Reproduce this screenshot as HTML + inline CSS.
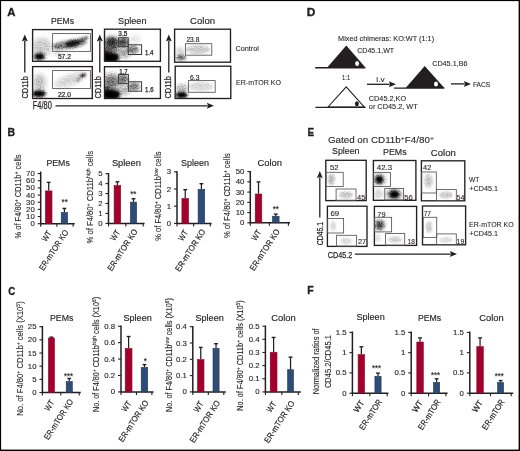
<!DOCTYPE html>
<html><head><meta charset="utf-8"><title>Figure</title>
<style>
html,body{margin:0;padding:0;background:#fff;width:520px;height:451px;overflow:hidden}
svg{display:block;will-change:transform;font-family:"Liberation Sans",sans-serif;fill:#231f20}
text{fill:#231f20}
</style></head><body>
<svg xmlns="http://www.w3.org/2000/svg" width="520" height="451" viewBox="0 0 520 451"><defs><filter id="b16" x="-100%" y="-100%" width="300%" height="300%"><feGaussianBlur stdDeviation="1.6"/></filter><filter id="b13" x="-100%" y="-100%" width="300%" height="300%"><feGaussianBlur stdDeviation="1.3"/></filter><filter id="b11" x="-100%" y="-100%" width="300%" height="300%"><feGaussianBlur stdDeviation="1.1"/></filter><filter id="b15" x="-100%" y="-100%" width="300%" height="300%"><feGaussianBlur stdDeviation="1.5"/></filter><filter id="b26" x="-100%" y="-100%" width="300%" height="300%"><feGaussianBlur stdDeviation="2.6"/></filter><filter id="b24" x="-100%" y="-100%" width="300%" height="300%"><feGaussianBlur stdDeviation="2.4"/></filter><filter id="b20" x="-100%" y="-100%" width="300%" height="300%"><feGaussianBlur stdDeviation="2.0"/></filter><filter id="b9" x="-100%" y="-100%" width="300%" height="300%"><feGaussianBlur stdDeviation="0.9"/></filter><filter id="b10" x="-100%" y="-100%" width="300%" height="300%"><feGaussianBlur stdDeviation="1.0"/></filter><filter id="b14" x="-100%" y="-100%" width="300%" height="300%"><feGaussianBlur stdDeviation="1.4"/></filter><filter id="b18" x="-100%" y="-100%" width="300%" height="300%"><feGaussianBlur stdDeviation="1.8"/></filter><filter id="b12" x="-100%" y="-100%" width="300%" height="300%"><feGaussianBlur stdDeviation="1.2"/></filter><filter id="spk" filterUnits="userSpaceOnUse" x="0" y="0" width="520" height="451" color-interpolation-filters="sRGB"><feTurbulence type="fractalNoise" baseFrequency="0.8" numOctaves="2" seed="11" result="n"/><feColorMatrix in="n" type="matrix" values="0 0 0 0 0  0 0 0 0 0  0 0 0 0 0  1.3 0 0 0 -0.15000000000000002" result="na"/><feComposite in="SourceAlpha" in2="SourceAlpha" operator="arithmetic" k1="-1" k2="1" k3="0" k4="0" result="b"/><feComposite in="b" in2="na" operator="arithmetic" k1="2" k2="0" k3="0" k4="0" result="t"/><feComposite in="SourceAlpha" in2="SourceAlpha" operator="arithmetic" k1="1" k2="0" k3="0" k4="0" result="a2"/><feComposite in="a2" in2="t" operator="arithmetic" k1="0" k2="1" k3="1" k4="0"/></filter><clipPath id="c0"><rect x="32.6" y="29.6" width="59.70" height="31.70"/></clipPath><clipPath id="c1"><rect x="32.6" y="66.6" width="59.70" height="31.90"/></clipPath><clipPath id="c2"><rect x="104.5" y="29.2" width="55.90" height="32.10"/></clipPath><clipPath id="c3"><rect x="104.5" y="66.7" width="55.90" height="31.80"/></clipPath><clipPath id="c4"><rect x="174.6" y="29.2" width="55.90" height="33.00"/></clipPath><clipPath id="c5"><rect x="175.2" y="66.2" width="55.60" height="32.30"/></clipPath><clipPath id="c6"><rect x="325.8" y="160.3" width="40.40" height="40.30"/></clipPath><clipPath id="c7"><rect x="373.4" y="160.5" width="42.50" height="39.80"/></clipPath><clipPath id="c8"><rect x="421.4" y="160.8" width="43.40" height="40.00"/></clipPath><clipPath id="c9"><rect x="327.4" y="206.2" width="39.60" height="40.20"/></clipPath><clipPath id="c10"><rect x="374.4" y="206.4" width="42.20" height="39.00"/></clipPath><clipPath id="c11"><rect x="422.5" y="206.0" width="43.10" height="38.80"/></clipPath></defs><rect x="0" y="0" width="520" height="451" fill="#fff"/>
<g filter="url(#spk)"><g clip-path="url(#c0)"><ellipse cx="70.00" cy="44.30" rx="17.00" ry="4.20" fill="#000" fill-opacity="0.5" filter="url(#b16)" transform="rotate(-9 70.00 44.30)"/><ellipse cx="72.50" cy="43.60" rx="7.50" ry="3.00" fill="#000" fill-opacity="0.85" filter="url(#b13)" transform="rotate(-12 72.50 43.60)"/><ellipse cx="82.50" cy="39.50" rx="6.50" ry="2.30" fill="#000" fill-opacity="0.5" filter="url(#b11)" transform="rotate(-24 82.50 39.50)"/><ellipse cx="57.00" cy="46.50" rx="5.00" ry="3.00" fill="#000" fill-opacity="0.22" filter="url(#b15)"/><ellipse cx="42.00" cy="47.00" rx="10.00" ry="9.00" fill="#000" fill-opacity="0.2" filter="url(#b26)"/><ellipse cx="39.50" cy="56.50" rx="5.50" ry="3.60" fill="#000" fill-opacity="1.0" filter="url(#b15)"/><ellipse cx="58.00" cy="53.00" rx="5.00" ry="2.50" fill="#000" fill-opacity="0.12" filter="url(#b15)"/></g><g clip-path="url(#c1)"><ellipse cx="39.50" cy="83.00" rx="6.00" ry="9.00" fill="#000" fill-opacity="0.25" filter="url(#b24)"/><ellipse cx="39.00" cy="93.80" rx="7.00" ry="3.60" fill="#000" fill-opacity="1.0" filter="url(#b15)"/><ellipse cx="70.00" cy="80.00" rx="16.00" ry="5.50" fill="#000" fill-opacity="0.16" filter="url(#b20)" transform="rotate(-20 70.00 80.00)"/><ellipse cx="83.00" cy="75.30" rx="3.20" ry="1.60" fill="#000" fill-opacity="0.9" filter="url(#b9)" transform="rotate(-20 83.00 75.30)"/><ellipse cx="78.50" cy="79.50" rx="3.00" ry="1.50" fill="#000" fill-opacity="0.3" filter="url(#b10)" transform="rotate(-45 78.50 79.50)"/></g><g clip-path="url(#c2)"><ellipse cx="110.50" cy="57.50" rx="9.00" ry="5.50" fill="#000" fill-opacity="1.0" filter="url(#b16)"/><ellipse cx="106.50" cy="53.00" rx="3.00" ry="4.00" fill="#000" fill-opacity="0.8" filter="url(#b14)"/><ellipse cx="111.50" cy="45.00" rx="8.00" ry="8.00" fill="#000" fill-opacity="0.7" filter="url(#b24)"/><ellipse cx="112.00" cy="41.00" rx="6.00" ry="3.50" fill="#000" fill-opacity="0.5" filter="url(#b15)"/><ellipse cx="123.40" cy="42.20" rx="5.00" ry="4.50" fill="#000" fill-opacity="0.7" filter="url(#b15)"/><ellipse cx="133.00" cy="49.50" rx="6.00" ry="4.00" fill="#000" fill-opacity="0.5" filter="url(#b16)"/><ellipse cx="124.00" cy="53.00" rx="6.00" ry="5.00" fill="#000" fill-opacity="0.35" filter="url(#b20)"/><ellipse cx="135.00" cy="39.00" rx="6.00" ry="4.00" fill="#000" fill-opacity="0.1" filter="url(#b20)"/></g><g clip-path="url(#c3)"><ellipse cx="111.00" cy="94.50" rx="9.50" ry="5.50" fill="#000" fill-opacity="1.0" filter="url(#b16)"/><ellipse cx="106.50" cy="90.00" rx="3.00" ry="4.00" fill="#000" fill-opacity="0.7" filter="url(#b14)"/><ellipse cx="111.50" cy="82.00" rx="8.00" ry="8.00" fill="#000" fill-opacity="0.55" filter="url(#b24)"/><ellipse cx="123.40" cy="79.00" rx="5.00" ry="4.50" fill="#000" fill-opacity="0.55" filter="url(#b15)"/><ellipse cx="134.00" cy="86.50" rx="6.00" ry="4.00" fill="#000" fill-opacity="0.5" filter="url(#b16)"/><ellipse cx="124.00" cy="90.00" rx="6.00" ry="5.00" fill="#000" fill-opacity="0.3" filter="url(#b20)"/></g><g clip-path="url(#c4)"><ellipse cx="198.00" cy="49.50" rx="12.00" ry="4.50" fill="#000" fill-opacity="0.2" filter="url(#b16)"/><ellipse cx="181.00" cy="57.50" rx="5.00" ry="3.00" fill="#000" fill-opacity="0.6" filter="url(#b14)"/><ellipse cx="180.00" cy="51.00" rx="4.00" ry="4.00" fill="#000" fill-opacity="0.15" filter="url(#b18)"/></g><g clip-path="url(#c5)"><ellipse cx="201.00" cy="86.50" rx="12.00" ry="4.50" fill="#000" fill-opacity="0.15" filter="url(#b16)"/><ellipse cx="181.50" cy="95.00" rx="6.00" ry="3.60" fill="#000" fill-opacity="1.0" filter="url(#b14)"/><ellipse cx="182.00" cy="88.00" rx="6.00" ry="4.00" fill="#000" fill-opacity="0.25" filter="url(#b18)"/></g><g clip-path="url(#c6)"><ellipse cx="331.50" cy="179.50" rx="3.50" ry="6.00" fill="#000" fill-opacity="0.24" filter="url(#b12)"/><ellipse cx="346.00" cy="195.00" rx="7.00" ry="3.50" fill="#000" fill-opacity="0.22" filter="url(#b12)"/></g><g clip-path="url(#c7)"><ellipse cx="379.30" cy="179.60" rx="4.00" ry="4.00" fill="#000" fill-opacity="1.0" filter="url(#b14)"/><ellipse cx="394.30" cy="194.30" rx="5.20" ry="4.00" fill="#000" fill-opacity="1.0" filter="url(#b15)"/><ellipse cx="379.50" cy="179.60" rx="6.50" ry="6.00" fill="#000" fill-opacity="0.25" filter="url(#b20)"/><ellipse cx="394.00" cy="194.50" rx="9.00" ry="5.50" fill="#000" fill-opacity="0.28" filter="url(#b20)"/><ellipse cx="378.50" cy="194.00" rx="4.00" ry="5.00" fill="#000" fill-opacity="0.15" filter="url(#b14)"/></g><g clip-path="url(#c8)"><ellipse cx="428.50" cy="181.00" rx="4.00" ry="7.00" fill="#000" fill-opacity="0.22" filter="url(#b14)"/><ellipse cx="446.00" cy="195.00" rx="7.00" ry="3.50" fill="#000" fill-opacity="0.2" filter="url(#b12)"/></g><g clip-path="url(#c9)"><ellipse cx="333.00" cy="226.00" rx="3.00" ry="5.00" fill="#000" fill-opacity="0.13" filter="url(#b12)"/><ellipse cx="346.00" cy="241.00" rx="6.00" ry="3.00" fill="#000" fill-opacity="0.15" filter="url(#b12)"/></g><g clip-path="url(#c10)"><ellipse cx="379.60" cy="225.00" rx="5.50" ry="5.50" fill="#000" fill-opacity="0.55" filter="url(#b18)"/><ellipse cx="379.60" cy="225.00" rx="2.00" ry="2.00" fill="#000" fill-opacity="0.6" filter="url(#b10)"/><ellipse cx="395.00" cy="239.50" rx="7.00" ry="3.00" fill="#000" fill-opacity="0.18" filter="url(#b12)"/><ellipse cx="378.00" cy="238.00" rx="3.00" ry="4.00" fill="#000" fill-opacity="0.1" filter="url(#b12)"/></g><g clip-path="url(#c11)"><ellipse cx="429.00" cy="227.00" rx="3.00" ry="6.00" fill="#000" fill-opacity="0.2" filter="url(#b12)"/><ellipse cx="446.00" cy="240.00" rx="7.00" ry="3.00" fill="#000" fill-opacity="0.13" filter="url(#b12)"/></g></g>
<text x="7.20" y="16.30" font-size="11" stroke="#231f20" stroke-width="0.35" font-weight="bold" textLength="8.20" lengthAdjust="spacingAndGlyphs">A</text>
<text x="306.80" y="16.30" font-size="11" stroke="#231f20" stroke-width="0.35" font-weight="bold" textLength="8.60" lengthAdjust="spacingAndGlyphs">D</text>
<text x="7.60" y="136.30" font-size="11" stroke="#231f20" stroke-width="0.35" font-weight="bold" textLength="7.60" lengthAdjust="spacingAndGlyphs">B</text>
<text x="307.60" y="136.30" font-size="11" stroke="#231f20" stroke-width="0.35" font-weight="bold" textLength="6.60" lengthAdjust="spacingAndGlyphs">E</text>
<text x="8.20" y="294.50" font-size="11" stroke="#231f20" stroke-width="0.35" font-weight="bold" textLength="7.00" lengthAdjust="spacingAndGlyphs">C</text>
<text x="307.20" y="293.90" font-size="11" stroke="#231f20" stroke-width="0.35" font-weight="bold" textLength="6.40" lengthAdjust="spacingAndGlyphs">F</text>
<text x="51.00" y="23.90" font-size="9.6" stroke="#231f20" stroke-width="0.15" textLength="23.00" lengthAdjust="spacingAndGlyphs">PEMs</text>
<text x="118.10" y="23.60" font-size="9.6" stroke="#231f20" stroke-width="0.15" textLength="28.40" lengthAdjust="spacingAndGlyphs">Spleen</text>
<text x="190.10" y="23.70" font-size="9.6" stroke="#231f20" stroke-width="0.15" textLength="24.90" lengthAdjust="spacingAndGlyphs">Colon</text>
<rect x="32.60" y="29.60" width="59.70" height="31.70" fill="none" stroke="#231f20" stroke-width="1.35"/>
<rect x="32.60" y="66.60" width="59.70" height="31.90" fill="none" stroke="#231f20" stroke-width="1.35"/>
<rect x="104.50" y="29.20" width="55.90" height="32.10" fill="none" stroke="#231f20" stroke-width="1.35"/>
<rect x="104.50" y="66.70" width="55.90" height="31.80" fill="none" stroke="#231f20" stroke-width="1.35"/>
<rect x="174.60" y="29.20" width="55.90" height="33.00" fill="none" stroke="#231f20" stroke-width="1.35"/>
<rect x="175.20" y="66.20" width="55.60" height="32.30" fill="none" stroke="#231f20" stroke-width="1.35"/>
<rect x="52.60" y="33.60" width="37.80" height="17.80" fill="none" stroke="#555" stroke-width="0.85"/>
<rect x="52.60" y="70.60" width="37.80" height="18.00" fill="none" stroke="#555" stroke-width="0.85"/>
<rect x="118.60" y="37.80" width="9.60" height="8.80" fill="none" stroke="#383838" stroke-width="1.0"/>
<rect x="128.20" y="44.80" width="13.40" height="9.70" fill="none" stroke="#383838" stroke-width="1.0"/>
<rect x="118.60" y="74.40" width="9.80" height="9.20" fill="none" stroke="#383838" stroke-width="1.0"/>
<rect x="128.40" y="81.80" width="13.20" height="9.40" fill="none" stroke="#383838" stroke-width="1.0"/>
<rect x="185.40" y="43.70" width="26.40" height="11.50" fill="none" stroke="#555" stroke-width="0.85"/>
<rect x="188.40" y="80.60" width="26.80" height="11.70" fill="none" stroke="#555" stroke-width="0.85"/>
<text x="57.90" y="59.00" font-size="6.6" stroke="#231f20" stroke-width="0.22" textLength="13.00" lengthAdjust="spacingAndGlyphs">57.2</text>
<text x="57.90" y="96.60" font-size="6.6" stroke="#231f20" stroke-width="0.22" textLength="13.00" lengthAdjust="spacingAndGlyphs">22.0</text>
<text x="118.30" y="36.40" font-size="6.6" stroke="#231f20" stroke-width="0.25" textLength="9.00" lengthAdjust="spacingAndGlyphs">3.5</text>
<text x="144.90" y="54.50" font-size="6.6" stroke="#231f20" stroke-width="0.25" textLength="8.40" lengthAdjust="spacingAndGlyphs">1.4</text>
<text x="119.30" y="73.90" font-size="6.6" stroke="#231f20" stroke-width="0.25" textLength="8.40" lengthAdjust="spacingAndGlyphs">1.7</text>
<text x="145.10" y="91.60" font-size="6.6" stroke="#231f20" stroke-width="0.25" textLength="8.40" lengthAdjust="spacingAndGlyphs">1.6</text>
<text x="186.40" y="42.30" font-size="6.6" stroke="#231f20" stroke-width="0.15" textLength="13.00" lengthAdjust="spacingAndGlyphs">23.8</text>
<text x="190.00" y="80.00" font-size="6.6" stroke="#231f20" stroke-width="0.15" textLength="9.40" lengthAdjust="spacingAndGlyphs">6.3</text>
<text x="235.50" y="51.00" font-size="7.6" stroke="#231f20" stroke-width="0.1" textLength="23.40" lengthAdjust="spacingAndGlyphs">Control</text>
<text x="236.00" y="85.00" font-size="7.6" stroke="#231f20" stroke-width="0.1" textLength="45.00" lengthAdjust="spacingAndGlyphs">ER-mTOR KO</text>
<line x1="24.80" y1="40.60" x2="24.80" y2="72.60" stroke="#231f20" stroke-width="1.3"/>
<path d="M21.80,41.60 L24.80,34.40 L27.80,41.60 L24.80,40.20 Z" fill="#231f20" stroke="none" stroke-width="1.0"/>
<text x="27.70" y="87.30" font-size="9.8" stroke="#231f20" stroke-width="0.25" text-anchor="middle" textLength="22.60" lengthAdjust="spacingAndGlyphs" transform="rotate(-90 27.70 87.30)">CD11b</text>
<line x1="99.80" y1="40.60" x2="99.80" y2="72.60" stroke="#231f20" stroke-width="1.3"/>
<path d="M96.80,41.60 L99.80,34.40 L102.80,41.60 L99.80,40.20 Z" fill="#231f20" stroke="none" stroke-width="1.0"/>
<text x="101.40" y="87.30" font-size="9.2" stroke="#231f20" stroke-width="0.25" text-anchor="middle" textLength="22.60" lengthAdjust="spacingAndGlyphs" transform="rotate(-90 101.40 87.30)">CD11b</text>
<line x1="168.80" y1="40.60" x2="168.80" y2="72.60" stroke="#231f20" stroke-width="1.3"/>
<path d="M165.80,41.60 L168.80,34.40 L171.80,41.60 L168.80,40.20 Z" fill="#231f20" stroke="none" stroke-width="1.0"/>
<text x="171.30" y="87.30" font-size="9.2" stroke="#231f20" stroke-width="0.25" text-anchor="middle" textLength="22.60" lengthAdjust="spacingAndGlyphs" transform="rotate(-90 171.30 87.30)">CD11b</text>
<text x="32.80" y="108.60" font-size="10.0" stroke="#231f20" stroke-width="0.25" textLength="19.00" lengthAdjust="spacingAndGlyphs">F4/80</text>
<line x1="55.50" y1="105.80" x2="207.80" y2="105.80" stroke="#231f20" stroke-width="1.3"/>
<path d="M206.80,102.80 L214.00,105.80 L206.80,108.80 L208.20,105.80 Z" fill="#231f20" stroke="none" stroke-width="1.0"/>
<text x="338.10" y="40.70" font-size="7.4" stroke="#231f20" stroke-width="0.1" textLength="96.00" lengthAdjust="spacingAndGlyphs">Mixed chimeras: KO:WT (1:1)</text>
<text x="357.20" y="52.70" font-size="7.4" stroke="#231f20" stroke-width="0.1" textLength="37.00" lengthAdjust="spacingAndGlyphs">CD45.1,WT</text>
<text x="432.20" y="66.40" font-size="7.4" stroke="#231f20" stroke-width="0.1" textLength="35.30" lengthAdjust="spacingAndGlyphs">CD45.1,B6</text>
<text x="342.00" y="80.20" font-size="7.4" stroke="#231f20" stroke-width="0.1" textLength="8.20" lengthAdjust="spacingAndGlyphs">1:1</text>
<text x="376.30" y="81.60" font-size="7.4" stroke="#231f20" stroke-width="0.1" textLength="8.30" lengthAdjust="spacingAndGlyphs">i.v</text>
<text x="472.90" y="86.50" font-size="8.0" stroke="#231f20" stroke-width="0.1" textLength="17.40" lengthAdjust="spacingAndGlyphs">FACS</text>
<text x="368.80" y="100.50" font-size="7.4" stroke="#231f20" stroke-width="0.1" textLength="37.40" lengthAdjust="spacingAndGlyphs">CD45.2,KO</text>
<text x="368.80" y="109.00" font-size="7.4" stroke="#231f20" stroke-width="0.1" textLength="49.00" lengthAdjust="spacingAndGlyphs">or CD45.2, WT</text>
<path d="M327.2,67.6 L346.3,45.6 L365.4,67.6 Z" fill="#231f20" stroke="none" stroke-width="1.0"/>
<line x1="315.20" y1="67.70" x2="365.40" y2="67.70" stroke="#231f20" stroke-width="1.35"/>
<ellipse cx="357.1" cy="63.6" rx="2.0" ry="2.5" fill="#fff"/>
<path d="M405.6,88.0 L424.7,66.0 L444.4,88.0 Z" fill="#231f20" stroke="none" stroke-width="1.0"/>
<line x1="394.00" y1="88.10" x2="444.40" y2="88.10" stroke="#231f20" stroke-width="1.35"/>
<ellipse cx="436.0" cy="84.0" rx="2.0" ry="2.5" fill="#fff"/>
<path d="M328.0,107.0 L346.2,86.8 L364.2,107.0 Z" fill="none" stroke="#231f20" stroke-width="1.1"/>
<line x1="315.40" y1="107.30" x2="365.60" y2="107.30" stroke="#231f20" stroke-width="1.35"/>
<ellipse cx="356.9" cy="103.8" rx="2.0" ry="2.5" fill="#231f20"/>
<line x1="366.90" y1="84.30" x2="389.80" y2="84.30" stroke="#231f20" stroke-width="1.3"/>
<path d="M388.80,81.30 L396.00,84.30 L388.80,87.30 L390.20,84.30 Z" fill="#231f20" stroke="none" stroke-width="1.0"/>
<line x1="451.00" y1="83.90" x2="464.80" y2="83.90" stroke="#231f20" stroke-width="1.3"/>
<path d="M463.80,80.90 L471.00,83.90 L463.80,86.90 L465.20,83.90 Z" fill="#231f20" stroke="none" stroke-width="1.0"/>
<line x1="40.70" y1="171.60" x2="40.70" y2="224.30" stroke="#231f20" stroke-width="1.5"/>
<line x1="37.70" y1="223.70" x2="40.70" y2="223.70" stroke="#231f20" stroke-width="1.1"/>
<text x="34.80" y="226.25" font-size="7.8" stroke="#231f20" stroke-width="0.12" text-anchor="end">0</text>
<line x1="37.70" y1="216.54" x2="40.70" y2="216.54" stroke="#231f20" stroke-width="1.1"/>
<text x="34.80" y="219.09" font-size="7.8" stroke="#231f20" stroke-width="0.12" text-anchor="end">10</text>
<line x1="37.70" y1="209.38" x2="40.70" y2="209.38" stroke="#231f20" stroke-width="1.1"/>
<text x="34.80" y="211.93" font-size="7.8" stroke="#231f20" stroke-width="0.12" text-anchor="end">20</text>
<line x1="37.70" y1="202.22" x2="40.70" y2="202.22" stroke="#231f20" stroke-width="1.1"/>
<text x="34.80" y="204.77" font-size="7.8" stroke="#231f20" stroke-width="0.12" text-anchor="end">30</text>
<line x1="37.70" y1="195.06" x2="40.70" y2="195.06" stroke="#231f20" stroke-width="1.1"/>
<text x="34.80" y="197.61" font-size="7.8" stroke="#231f20" stroke-width="0.12" text-anchor="end">40</text>
<line x1="37.70" y1="187.90" x2="40.70" y2="187.90" stroke="#231f20" stroke-width="1.1"/>
<text x="34.80" y="190.45" font-size="7.8" stroke="#231f20" stroke-width="0.12" text-anchor="end">50</text>
<line x1="37.70" y1="180.74" x2="40.70" y2="180.74" stroke="#231f20" stroke-width="1.1"/>
<text x="34.80" y="183.29" font-size="7.8" stroke="#231f20" stroke-width="0.12" text-anchor="end">60</text>
<line x1="37.70" y1="173.58" x2="40.70" y2="173.58" stroke="#231f20" stroke-width="1.1"/>
<text x="34.80" y="176.13" font-size="7.8" stroke="#231f20" stroke-width="0.12" text-anchor="end">70</text>
<line x1="40.20" y1="223.70" x2="74.80" y2="223.70" stroke="#231f20" stroke-width="1.5"/>
<line x1="40.70" y1="223.70" x2="40.70" y2="226.70" stroke="#231f20" stroke-width="1.1"/>
<line x1="56.90" y1="223.70" x2="56.90" y2="226.70" stroke="#231f20" stroke-width="1.1"/>
<line x1="73.10" y1="223.70" x2="73.10" y2="226.70" stroke="#231f20" stroke-width="1.1"/>
<rect x="45.40" y="190.92" width="6.60" height="32.78" fill="#a3002b" stroke="#860a2c" stroke-width="0.6"/>
<line x1="48.70" y1="190.62" x2="48.70" y2="182.67" stroke="#231f20" stroke-width="1.25"/>
<line x1="46.80" y1="182.37" x2="50.60" y2="182.37" stroke="#231f20" stroke-width="1.4"/>
<rect x="61.20" y="212.47" width="6.40" height="11.23" fill="#2e4c78" stroke="#213555" stroke-width="0.6"/>
<line x1="64.40" y1="212.17" x2="64.40" y2="208.73" stroke="#231f20" stroke-width="1.25"/>
<line x1="62.50" y1="208.43" x2="66.30" y2="208.43" stroke="#231f20" stroke-width="1.4"/>
<text x="46.40" y="165.50" font-size="9.6" stroke="#231f20" stroke-width="0.15" textLength="23.40" lengthAdjust="spacingAndGlyphs">PEMs</text>
<text x="64.70" y="205.40" font-size="9.0" stroke="#231f20" stroke-width="0.15" text-anchor="middle" textLength="6.20" lengthAdjust="spacingAndGlyphs">**</text>
<text x="51.90" y="233.10" font-size="8.4" stroke="#231f20" stroke-width="0.18" text-anchor="end" textLength="11.00" lengthAdjust="spacingAndGlyphs" transform="rotate(-57 51.90 233.10)">WT</text>
<text x="68.80" y="232.20" font-size="8.4" stroke="#231f20" stroke-width="0.18" text-anchor="end" textLength="46.50" lengthAdjust="spacingAndGlyphs" transform="rotate(-57 68.80 232.20)">ER-mTOR KO</text>
<line x1="108.50" y1="173.00" x2="108.50" y2="224.00" stroke="#231f20" stroke-width="1.5"/>
<line x1="105.50" y1="223.40" x2="108.50" y2="223.40" stroke="#231f20" stroke-width="1.1"/>
<text x="102.60" y="225.95" font-size="7.8" stroke="#231f20" stroke-width="0.12" text-anchor="end">0</text>
<line x1="105.50" y1="213.45" x2="108.50" y2="213.45" stroke="#231f20" stroke-width="1.1"/>
<text x="102.60" y="216.00" font-size="7.8" stroke="#231f20" stroke-width="0.12" text-anchor="end">1</text>
<line x1="105.50" y1="203.50" x2="108.50" y2="203.50" stroke="#231f20" stroke-width="1.1"/>
<text x="102.60" y="206.05" font-size="7.8" stroke="#231f20" stroke-width="0.12" text-anchor="end">2</text>
<line x1="105.50" y1="193.55" x2="108.50" y2="193.55" stroke="#231f20" stroke-width="1.1"/>
<text x="102.60" y="196.10" font-size="7.8" stroke="#231f20" stroke-width="0.12" text-anchor="end">3</text>
<line x1="105.50" y1="183.60" x2="108.50" y2="183.60" stroke="#231f20" stroke-width="1.1"/>
<text x="102.60" y="186.15" font-size="7.8" stroke="#231f20" stroke-width="0.12" text-anchor="end">4</text>
<line x1="105.50" y1="173.65" x2="108.50" y2="173.65" stroke="#231f20" stroke-width="1.1"/>
<text x="102.60" y="176.20" font-size="7.8" stroke="#231f20" stroke-width="0.12" text-anchor="end">5</text>
<line x1="108.00" y1="223.40" x2="144.60" y2="223.40" stroke="#231f20" stroke-width="1.5"/>
<line x1="108.50" y1="223.40" x2="108.50" y2="226.40" stroke="#231f20" stroke-width="1.1"/>
<line x1="125.85" y1="223.40" x2="125.85" y2="226.40" stroke="#231f20" stroke-width="1.1"/>
<line x1="143.20" y1="223.40" x2="143.20" y2="226.40" stroke="#231f20" stroke-width="1.1"/>
<rect x="114.10" y="185.49" width="6.60" height="37.91" fill="#a3002b" stroke="#860a2c" stroke-width="0.6"/>
<line x1="117.40" y1="185.19" x2="117.40" y2="182.11" stroke="#231f20" stroke-width="1.25"/>
<line x1="115.50" y1="181.81" x2="119.30" y2="181.81" stroke="#231f20" stroke-width="1.4"/>
<rect x="130.40" y="202.11" width="6.20" height="21.29" fill="#2e4c78" stroke="#213555" stroke-width="0.6"/>
<line x1="133.50" y1="201.81" x2="133.50" y2="199.03" stroke="#231f20" stroke-width="1.25"/>
<line x1="131.60" y1="198.72" x2="135.40" y2="198.72" stroke="#231f20" stroke-width="1.4"/>
<text x="111.90" y="165.80" font-size="9.6" stroke="#231f20" stroke-width="0.15" textLength="29.00" lengthAdjust="spacingAndGlyphs">Spleen</text>
<text x="133.30" y="197.30" font-size="9.0" stroke="#231f20" stroke-width="0.15" text-anchor="middle" textLength="6.20" lengthAdjust="spacingAndGlyphs">**</text>
<text x="120.60" y="232.30" font-size="8.4" stroke="#231f20" stroke-width="0.18" text-anchor="end" textLength="11.00" lengthAdjust="spacingAndGlyphs" transform="rotate(-57 120.60 232.30)">WT</text>
<text x="137.90" y="231.40" font-size="8.4" stroke="#231f20" stroke-width="0.18" text-anchor="end" textLength="48.00" lengthAdjust="spacingAndGlyphs" transform="rotate(-57 137.90 231.40)">ER-mTOR KO</text>
<line x1="177.00" y1="171.20" x2="177.00" y2="224.00" stroke="#231f20" stroke-width="1.5"/>
<line x1="174.00" y1="223.40" x2="177.00" y2="223.40" stroke="#231f20" stroke-width="1.1"/>
<text x="171.10" y="225.95" font-size="7.8" stroke="#231f20" stroke-width="0.12" text-anchor="end">0</text>
<line x1="174.00" y1="206.20" x2="177.00" y2="206.20" stroke="#231f20" stroke-width="1.1"/>
<text x="171.10" y="208.75" font-size="7.8" stroke="#231f20" stroke-width="0.12" text-anchor="end">1</text>
<line x1="174.00" y1="189.00" x2="177.00" y2="189.00" stroke="#231f20" stroke-width="1.1"/>
<text x="171.10" y="191.55" font-size="7.8" stroke="#231f20" stroke-width="0.12" text-anchor="end">2</text>
<line x1="174.00" y1="171.80" x2="177.00" y2="171.80" stroke="#231f20" stroke-width="1.1"/>
<text x="171.10" y="174.35" font-size="7.8" stroke="#231f20" stroke-width="0.12" text-anchor="end">3</text>
<line x1="176.50" y1="223.40" x2="211.60" y2="223.40" stroke="#231f20" stroke-width="1.5"/>
<line x1="177.00" y1="223.40" x2="177.00" y2="226.40" stroke="#231f20" stroke-width="1.1"/>
<line x1="193.65" y1="223.40" x2="193.65" y2="226.40" stroke="#231f20" stroke-width="1.1"/>
<line x1="210.30" y1="223.40" x2="210.30" y2="226.40" stroke="#231f20" stroke-width="1.1"/>
<rect x="181.90" y="198.42" width="6.70" height="24.98" fill="#a3002b" stroke="#860a2c" stroke-width="0.6"/>
<line x1="185.25" y1="198.12" x2="185.25" y2="190.02" stroke="#231f20" stroke-width="1.25"/>
<line x1="183.35" y1="189.72" x2="187.15" y2="189.72" stroke="#231f20" stroke-width="1.4"/>
<rect x="198.10" y="189.30" width="6.60" height="34.10" fill="#2e4c78" stroke="#213555" stroke-width="0.6"/>
<line x1="201.40" y1="189.00" x2="201.40" y2="184.00" stroke="#231f20" stroke-width="1.25"/>
<line x1="199.50" y1="183.70" x2="203.30" y2="183.70" stroke="#231f20" stroke-width="1.4"/>
<text x="181.00" y="165.80" font-size="9.6" stroke="#231f20" stroke-width="0.15" textLength="28.00" lengthAdjust="spacingAndGlyphs">Spleen</text>
<text x="188.45" y="232.40" font-size="8.4" stroke="#231f20" stroke-width="0.18" text-anchor="end" textLength="11.00" lengthAdjust="spacingAndGlyphs" transform="rotate(-57 188.45 232.40)">WT</text>
<text x="205.80" y="231.50" font-size="8.4" stroke="#231f20" stroke-width="0.18" text-anchor="end" textLength="48.50" lengthAdjust="spacingAndGlyphs" transform="rotate(-57 205.80 231.50)">ER-mTOR KO</text>
<line x1="250.30" y1="171.00" x2="250.30" y2="223.40" stroke="#231f20" stroke-width="1.5"/>
<line x1="247.30" y1="222.80" x2="250.30" y2="222.80" stroke="#231f20" stroke-width="1.1"/>
<text x="244.40" y="225.35" font-size="7.8" stroke="#231f20" stroke-width="0.12" text-anchor="end">0</text>
<line x1="247.30" y1="212.56" x2="250.30" y2="212.56" stroke="#231f20" stroke-width="1.1"/>
<text x="244.40" y="215.11" font-size="7.8" stroke="#231f20" stroke-width="0.12" text-anchor="end">10</text>
<line x1="247.30" y1="202.32" x2="250.30" y2="202.32" stroke="#231f20" stroke-width="1.1"/>
<text x="244.40" y="204.87" font-size="7.8" stroke="#231f20" stroke-width="0.12" text-anchor="end">20</text>
<line x1="247.30" y1="192.08" x2="250.30" y2="192.08" stroke="#231f20" stroke-width="1.1"/>
<text x="244.40" y="194.63" font-size="7.8" stroke="#231f20" stroke-width="0.12" text-anchor="end">30</text>
<line x1="247.30" y1="181.84" x2="250.30" y2="181.84" stroke="#231f20" stroke-width="1.1"/>
<text x="244.40" y="184.39" font-size="7.8" stroke="#231f20" stroke-width="0.12" text-anchor="end">40</text>
<line x1="247.30" y1="171.60" x2="250.30" y2="171.60" stroke="#231f20" stroke-width="1.1"/>
<text x="244.40" y="174.15" font-size="7.8" stroke="#231f20" stroke-width="0.12" text-anchor="end">50</text>
<line x1="249.80" y1="222.80" x2="290.00" y2="222.80" stroke="#231f20" stroke-width="1.5"/>
<line x1="250.30" y1="222.80" x2="250.30" y2="225.80" stroke="#231f20" stroke-width="1.1"/>
<line x1="269.35" y1="222.80" x2="269.35" y2="225.80" stroke="#231f20" stroke-width="1.1"/>
<line x1="288.40" y1="222.80" x2="288.40" y2="225.80" stroke="#231f20" stroke-width="1.1"/>
<rect x="255.20" y="194.02" width="6.60" height="28.78" fill="#a3002b" stroke="#860a2c" stroke-width="0.6"/>
<line x1="258.50" y1="193.72" x2="258.50" y2="182.24" stroke="#231f20" stroke-width="1.25"/>
<line x1="256.60" y1="181.94" x2="260.40" y2="181.94" stroke="#231f20" stroke-width="1.4"/>
<rect x="272.50" y="216.24" width="6.60" height="6.56" fill="#2e4c78" stroke="#213555" stroke-width="0.6"/>
<line x1="275.80" y1="215.94" x2="275.80" y2="214.39" stroke="#231f20" stroke-width="1.25"/>
<line x1="273.90" y1="214.09" x2="277.70" y2="214.09" stroke="#231f20" stroke-width="1.4"/>
<text x="257.40" y="166.10" font-size="9.6" stroke="#231f20" stroke-width="0.15" textLength="24.60" lengthAdjust="spacingAndGlyphs">Colon</text>
<text x="275.80" y="212.10" font-size="9.0" stroke="#231f20" stroke-width="0.15" text-anchor="middle" textLength="6.20" lengthAdjust="spacingAndGlyphs">**</text>
<text x="261.70" y="232.20" font-size="8.4" stroke="#231f20" stroke-width="0.18" text-anchor="end" textLength="11.00" lengthAdjust="spacingAndGlyphs" transform="rotate(-57 261.70 232.20)">WT</text>
<text x="280.20" y="231.30" font-size="8.4" stroke="#231f20" stroke-width="0.18" text-anchor="end" textLength="48.00" lengthAdjust="spacingAndGlyphs" transform="rotate(-57 280.20 231.30)">ER-mTOR KO</text>
<line x1="42.40" y1="326.00" x2="42.40" y2="393.10" stroke="#231f20" stroke-width="1.5"/>
<line x1="39.40" y1="392.50" x2="42.40" y2="392.50" stroke="#231f20" stroke-width="1.1"/>
<text x="36.50" y="395.05" font-size="7.8" stroke="#231f20" stroke-width="0.12" text-anchor="end">0</text>
<line x1="39.40" y1="379.34" x2="42.40" y2="379.34" stroke="#231f20" stroke-width="1.1"/>
<text x="36.50" y="381.89" font-size="7.8" stroke="#231f20" stroke-width="0.12" text-anchor="end">5</text>
<line x1="39.40" y1="366.18" x2="42.40" y2="366.18" stroke="#231f20" stroke-width="1.1"/>
<text x="36.50" y="368.73" font-size="7.8" stroke="#231f20" stroke-width="0.12" text-anchor="end">10</text>
<line x1="39.40" y1="353.02" x2="42.40" y2="353.02" stroke="#231f20" stroke-width="1.1"/>
<text x="36.50" y="355.57" font-size="7.8" stroke="#231f20" stroke-width="0.12" text-anchor="end">15</text>
<line x1="39.40" y1="339.86" x2="42.40" y2="339.86" stroke="#231f20" stroke-width="1.1"/>
<text x="36.50" y="342.41" font-size="7.8" stroke="#231f20" stroke-width="0.12" text-anchor="end">20</text>
<line x1="39.40" y1="326.70" x2="42.40" y2="326.70" stroke="#231f20" stroke-width="1.1"/>
<text x="36.50" y="329.25" font-size="7.8" stroke="#231f20" stroke-width="0.12" text-anchor="end">25</text>
<line x1="41.90" y1="392.50" x2="80.80" y2="392.50" stroke="#231f20" stroke-width="1.5"/>
<line x1="42.40" y1="392.50" x2="42.40" y2="395.50" stroke="#231f20" stroke-width="1.1"/>
<line x1="60.80" y1="392.50" x2="60.80" y2="395.50" stroke="#231f20" stroke-width="1.1"/>
<line x1="79.20" y1="392.50" x2="79.20" y2="395.50" stroke="#231f20" stroke-width="1.1"/>
<rect x="48.40" y="338.05" width="6.10" height="54.45" fill="#a3002b" stroke="#860a2c" stroke-width="0.6"/>
<line x1="51.45" y1="337.75" x2="51.45" y2="337.46" stroke="#231f20" stroke-width="1.25"/>
<line x1="49.55" y1="337.16" x2="53.35" y2="337.16" stroke="#231f20" stroke-width="1.4"/>
<rect x="66.20" y="381.59" width="6.10" height="10.91" fill="#2e4c78" stroke="#213555" stroke-width="0.6"/>
<line x1="69.25" y1="381.29" x2="69.25" y2="378.79" stroke="#231f20" stroke-width="1.25"/>
<line x1="67.35" y1="378.49" x2="71.15" y2="378.49" stroke="#231f20" stroke-width="1.4"/>
<text x="50.00" y="320.70" font-size="9.6" stroke="#231f20" stroke-width="0.15" textLength="23.40" lengthAdjust="spacingAndGlyphs">PEMs</text>
<text x="68.50" y="378.70" font-size="9.0" stroke="#231f20" stroke-width="0.15" text-anchor="middle" textLength="9.00" lengthAdjust="spacingAndGlyphs">***</text>
<text x="54.65" y="402.40" font-size="8.4" stroke="#231f20" stroke-width="0.18" text-anchor="end" textLength="11.00" lengthAdjust="spacingAndGlyphs" transform="rotate(-57 54.65 402.40)">WT</text>
<text x="73.65" y="401.50" font-size="8.4" stroke="#231f20" stroke-width="0.18" text-anchor="end" textLength="46.50" lengthAdjust="spacingAndGlyphs" transform="rotate(-57 73.65 401.50)">ER-mTOR KO</text>
<line x1="121.00" y1="325.50" x2="121.00" y2="392.50" stroke="#231f20" stroke-width="1.5"/>
<line x1="118.00" y1="391.90" x2="121.00" y2="391.90" stroke="#231f20" stroke-width="1.1"/>
<text x="115.10" y="394.45" font-size="7.8" stroke="#231f20" stroke-width="0.12" text-anchor="end">0</text>
<line x1="118.00" y1="375.48" x2="121.00" y2="375.48" stroke="#231f20" stroke-width="1.1"/>
<text x="115.10" y="378.03" font-size="7.8" stroke="#231f20" stroke-width="0.12" text-anchor="end">0.2</text>
<line x1="118.00" y1="359.06" x2="121.00" y2="359.06" stroke="#231f20" stroke-width="1.1"/>
<text x="115.10" y="361.61" font-size="7.8" stroke="#231f20" stroke-width="0.12" text-anchor="end">0.4</text>
<line x1="118.00" y1="342.64" x2="121.00" y2="342.64" stroke="#231f20" stroke-width="1.1"/>
<text x="115.10" y="345.19" font-size="7.8" stroke="#231f20" stroke-width="0.12" text-anchor="end">0.6</text>
<line x1="118.00" y1="326.22" x2="121.00" y2="326.22" stroke="#231f20" stroke-width="1.1"/>
<text x="115.10" y="328.77" font-size="7.8" stroke="#231f20" stroke-width="0.12" text-anchor="end">0.8</text>
<line x1="120.50" y1="391.90" x2="153.60" y2="391.90" stroke="#231f20" stroke-width="1.5"/>
<line x1="121.00" y1="391.90" x2="121.00" y2="394.90" stroke="#231f20" stroke-width="1.1"/>
<line x1="136.45" y1="391.90" x2="136.45" y2="394.90" stroke="#231f20" stroke-width="1.1"/>
<line x1="151.90" y1="391.90" x2="151.90" y2="394.90" stroke="#231f20" stroke-width="1.1"/>
<rect x="125.20" y="348.44" width="6.80" height="43.46" fill="#a3002b" stroke="#860a2c" stroke-width="0.6"/>
<line x1="128.60" y1="348.14" x2="128.60" y2="336.82" stroke="#231f20" stroke-width="1.25"/>
<line x1="126.70" y1="336.52" x2="130.50" y2="336.52" stroke="#231f20" stroke-width="1.4"/>
<rect x="141.20" y="367.41" width="6.50" height="24.49" fill="#2e4c78" stroke="#213555" stroke-width="0.6"/>
<line x1="144.45" y1="367.11" x2="144.45" y2="364.90" stroke="#231f20" stroke-width="1.25"/>
<line x1="142.55" y1="364.60" x2="146.35" y2="364.60" stroke="#231f20" stroke-width="1.4"/>
<text x="123.40" y="320.60" font-size="9.6" stroke="#231f20" stroke-width="0.15" textLength="28.40" lengthAdjust="spacingAndGlyphs">Spleen</text>
<text x="145.30" y="363.90" font-size="9.0" stroke="#231f20" stroke-width="0.15" text-anchor="middle" textLength="3.20" lengthAdjust="spacingAndGlyphs">*</text>
<text x="131.80" y="403.40" font-size="8.4" stroke="#231f20" stroke-width="0.18" text-anchor="end" textLength="11.00" lengthAdjust="spacingAndGlyphs" transform="rotate(-57 131.80 403.40)">WT</text>
<text x="148.85" y="402.50" font-size="8.4" stroke="#231f20" stroke-width="0.18" text-anchor="end" textLength="48.00" lengthAdjust="spacingAndGlyphs" transform="rotate(-57 148.85 402.50)">ER-mTOR KO</text>
<line x1="192.80" y1="326.00" x2="192.80" y2="392.50" stroke="#231f20" stroke-width="1.5"/>
<line x1="189.80" y1="391.90" x2="192.80" y2="391.90" stroke="#231f20" stroke-width="1.1"/>
<text x="186.90" y="394.45" font-size="7.8" stroke="#231f20" stroke-width="0.12" text-anchor="end">0</text>
<line x1="189.80" y1="375.60" x2="192.80" y2="375.60" stroke="#231f20" stroke-width="1.1"/>
<text x="186.90" y="378.15" font-size="7.8" stroke="#231f20" stroke-width="0.12" text-anchor="end">0.1</text>
<line x1="189.80" y1="359.30" x2="192.80" y2="359.30" stroke="#231f20" stroke-width="1.1"/>
<text x="186.90" y="361.85" font-size="7.8" stroke="#231f20" stroke-width="0.12" text-anchor="end">0.2</text>
<line x1="189.80" y1="343.00" x2="192.80" y2="343.00" stroke="#231f20" stroke-width="1.1"/>
<text x="186.90" y="345.55" font-size="7.8" stroke="#231f20" stroke-width="0.12" text-anchor="end">0.3</text>
<line x1="189.80" y1="326.70" x2="192.80" y2="326.70" stroke="#231f20" stroke-width="1.1"/>
<text x="186.90" y="329.25" font-size="7.8" stroke="#231f20" stroke-width="0.12" text-anchor="end">0.4</text>
<line x1="192.30" y1="391.90" x2="225.80" y2="391.90" stroke="#231f20" stroke-width="1.5"/>
<line x1="192.80" y1="391.90" x2="192.80" y2="394.90" stroke="#231f20" stroke-width="1.1"/>
<line x1="208.30" y1="391.90" x2="208.30" y2="394.90" stroke="#231f20" stroke-width="1.1"/>
<line x1="223.80" y1="391.90" x2="223.80" y2="394.90" stroke="#231f20" stroke-width="1.1"/>
<rect x="197.50" y="359.60" width="6.50" height="32.30" fill="#a3002b" stroke="#860a2c" stroke-width="0.6"/>
<line x1="200.75" y1="359.30" x2="200.75" y2="347.74" stroke="#231f20" stroke-width="1.25"/>
<line x1="198.85" y1="347.44" x2="202.65" y2="347.44" stroke="#231f20" stroke-width="1.4"/>
<rect x="213.00" y="348.35" width="6.10" height="43.55" fill="#2e4c78" stroke="#213555" stroke-width="0.6"/>
<line x1="216.05" y1="348.05" x2="216.05" y2="343.99" stroke="#231f20" stroke-width="1.25"/>
<line x1="214.15" y1="343.69" x2="217.95" y2="343.69" stroke="#231f20" stroke-width="1.4"/>
<text x="195.40" y="320.60" font-size="9.6" stroke="#231f20" stroke-width="0.15" textLength="28.40" lengthAdjust="spacingAndGlyphs">Spleen</text>
<text x="203.95" y="403.70" font-size="8.4" stroke="#231f20" stroke-width="0.18" text-anchor="end" textLength="11.00" lengthAdjust="spacingAndGlyphs" transform="rotate(-57 203.95 403.70)">WT</text>
<text x="220.45" y="402.80" font-size="8.4" stroke="#231f20" stroke-width="0.18" text-anchor="end" textLength="48.50" lengthAdjust="spacingAndGlyphs" transform="rotate(-57 220.45 402.80)">ER-mTOR KO</text>
<line x1="265.40" y1="325.60" x2="265.40" y2="392.50" stroke="#231f20" stroke-width="1.5"/>
<line x1="262.40" y1="391.90" x2="265.40" y2="391.90" stroke="#231f20" stroke-width="1.1"/>
<text x="259.50" y="394.45" font-size="7.8" stroke="#231f20" stroke-width="0.12" text-anchor="end">0</text>
<line x1="262.40" y1="378.76" x2="265.40" y2="378.76" stroke="#231f20" stroke-width="1.1"/>
<text x="259.50" y="381.31" font-size="7.8" stroke="#231f20" stroke-width="0.12" text-anchor="end">0.1</text>
<line x1="262.40" y1="365.62" x2="265.40" y2="365.62" stroke="#231f20" stroke-width="1.1"/>
<text x="259.50" y="368.17" font-size="7.8" stroke="#231f20" stroke-width="0.12" text-anchor="end">0.2</text>
<line x1="262.40" y1="352.48" x2="265.40" y2="352.48" stroke="#231f20" stroke-width="1.1"/>
<text x="259.50" y="355.03" font-size="7.8" stroke="#231f20" stroke-width="0.12" text-anchor="end">0.3</text>
<line x1="262.40" y1="339.34" x2="265.40" y2="339.34" stroke="#231f20" stroke-width="1.1"/>
<text x="259.50" y="341.89" font-size="7.8" stroke="#231f20" stroke-width="0.12" text-anchor="end">0.4</text>
<line x1="262.40" y1="326.20" x2="265.40" y2="326.20" stroke="#231f20" stroke-width="1.1"/>
<text x="259.50" y="328.75" font-size="7.8" stroke="#231f20" stroke-width="0.12" text-anchor="end">0.5</text>
<line x1="264.90" y1="391.90" x2="300.80" y2="391.90" stroke="#231f20" stroke-width="1.5"/>
<line x1="265.40" y1="391.90" x2="265.40" y2="394.90" stroke="#231f20" stroke-width="1.1"/>
<line x1="281.85" y1="391.90" x2="281.85" y2="394.90" stroke="#231f20" stroke-width="1.1"/>
<line x1="298.30" y1="391.90" x2="298.30" y2="394.90" stroke="#231f20" stroke-width="1.1"/>
<rect x="270.20" y="352.25" width="6.80" height="39.65" fill="#a3002b" stroke="#860a2c" stroke-width="0.6"/>
<line x1="273.60" y1="351.95" x2="273.60" y2="337.74" stroke="#231f20" stroke-width="1.25"/>
<line x1="271.70" y1="337.44" x2="275.50" y2="337.44" stroke="#231f20" stroke-width="1.4"/>
<rect x="287.60" y="369.73" width="5.90" height="22.17" fill="#2e4c78" stroke="#213555" stroke-width="0.6"/>
<line x1="290.55" y1="369.43" x2="290.55" y2="357.45" stroke="#231f20" stroke-width="1.25"/>
<line x1="288.65" y1="357.15" x2="292.45" y2="357.15" stroke="#231f20" stroke-width="1.4"/>
<text x="271.20" y="320.60" font-size="9.6" stroke="#231f20" stroke-width="0.15" textLength="24.60" lengthAdjust="spacingAndGlyphs">Colon</text>
<text x="276.80" y="403.90" font-size="8.4" stroke="#231f20" stroke-width="0.18" text-anchor="end" textLength="11.00" lengthAdjust="spacingAndGlyphs" transform="rotate(-57 276.80 403.90)">WT</text>
<text x="294.95" y="403.00" font-size="8.4" stroke="#231f20" stroke-width="0.18" text-anchor="end" textLength="48.50" lengthAdjust="spacingAndGlyphs" transform="rotate(-57 294.95 403.00)">ER-mTOR KO</text>
<line x1="352.40" y1="331.50" x2="352.40" y2="393.80" stroke="#231f20" stroke-width="1.5"/>
<line x1="349.40" y1="393.20" x2="352.40" y2="393.20" stroke="#231f20" stroke-width="1.1"/>
<text x="346.50" y="395.75" font-size="7.8" stroke="#231f20" stroke-width="0.12" text-anchor="end">0</text>
<line x1="349.40" y1="372.94" x2="352.40" y2="372.94" stroke="#231f20" stroke-width="1.1"/>
<text x="346.50" y="375.49" font-size="7.8" stroke="#231f20" stroke-width="0.12" text-anchor="end">0.5</text>
<line x1="349.40" y1="352.67" x2="352.40" y2="352.67" stroke="#231f20" stroke-width="1.1"/>
<text x="346.50" y="355.22" font-size="7.8" stroke="#231f20" stroke-width="0.12" text-anchor="end">1</text>
<line x1="349.40" y1="332.40" x2="352.40" y2="332.40" stroke="#231f20" stroke-width="1.1"/>
<text x="346.50" y="334.95" font-size="7.8" stroke="#231f20" stroke-width="0.12" text-anchor="end">1.5</text>
<line x1="351.90" y1="393.20" x2="388.40" y2="393.20" stroke="#231f20" stroke-width="1.5"/>
<line x1="352.40" y1="393.20" x2="352.40" y2="396.20" stroke="#231f20" stroke-width="1.1"/>
<line x1="369.80" y1="393.20" x2="369.80" y2="396.20" stroke="#231f20" stroke-width="1.1"/>
<line x1="387.20" y1="393.20" x2="387.20" y2="396.20" stroke="#231f20" stroke-width="1.1"/>
<rect x="358.10" y="354.59" width="6.50" height="38.61" fill="#a3002b" stroke="#860a2c" stroke-width="0.6"/>
<line x1="361.35" y1="354.29" x2="361.35" y2="347.09" stroke="#231f20" stroke-width="1.25"/>
<line x1="359.45" y1="346.79" x2="363.25" y2="346.79" stroke="#231f20" stroke-width="1.4"/>
<rect x="374.90" y="376.27" width="6.20" height="16.93" fill="#2e4c78" stroke="#213555" stroke-width="0.6"/>
<line x1="378.00" y1="375.97" x2="378.00" y2="373.44" stroke="#231f20" stroke-width="1.25"/>
<line x1="376.10" y1="373.13" x2="379.90" y2="373.13" stroke="#231f20" stroke-width="1.4"/>
<text x="356.40" y="320.30" font-size="9.6" stroke="#231f20" stroke-width="0.15" textLength="28.30" lengthAdjust="spacingAndGlyphs">Spleen</text>
<text x="376.40" y="371.10" font-size="9.0" stroke="#231f20" stroke-width="0.15" text-anchor="middle" textLength="9.00" lengthAdjust="spacingAndGlyphs">***</text>
<text x="364.55" y="402.60" font-size="8.4" stroke="#231f20" stroke-width="0.18" text-anchor="end" textLength="12.30" lengthAdjust="spacingAndGlyphs" transform="rotate(-57 364.55 402.60)">WT</text>
<text x="382.40" y="401.70" font-size="8.4" stroke="#231f20" stroke-width="0.18" text-anchor="end" textLength="34.50" lengthAdjust="spacingAndGlyphs" transform="rotate(-57 382.40 401.70)">ER-mTOR</text>
<line x1="411.20" y1="331.50" x2="411.20" y2="393.80" stroke="#231f20" stroke-width="1.5"/>
<line x1="408.20" y1="393.20" x2="411.20" y2="393.20" stroke="#231f20" stroke-width="1.1"/>
<text x="405.30" y="395.75" font-size="7.8" stroke="#231f20" stroke-width="0.12" text-anchor="end">0</text>
<line x1="408.20" y1="372.94" x2="411.20" y2="372.94" stroke="#231f20" stroke-width="1.1"/>
<text x="405.30" y="375.49" font-size="7.8" stroke="#231f20" stroke-width="0.12" text-anchor="end">0.5</text>
<line x1="408.20" y1="352.67" x2="411.20" y2="352.67" stroke="#231f20" stroke-width="1.1"/>
<text x="405.30" y="355.22" font-size="7.8" stroke="#231f20" stroke-width="0.12" text-anchor="end">1</text>
<line x1="408.20" y1="332.40" x2="411.20" y2="332.40" stroke="#231f20" stroke-width="1.1"/>
<text x="405.30" y="334.95" font-size="7.8" stroke="#231f20" stroke-width="0.12" text-anchor="end">1.5</text>
<line x1="410.70" y1="393.20" x2="447.60" y2="393.20" stroke="#231f20" stroke-width="1.5"/>
<line x1="411.20" y1="393.20" x2="411.20" y2="396.20" stroke="#231f20" stroke-width="1.1"/>
<line x1="428.55" y1="393.20" x2="428.55" y2="396.20" stroke="#231f20" stroke-width="1.1"/>
<line x1="445.90" y1="393.20" x2="445.90" y2="396.20" stroke="#231f20" stroke-width="1.1"/>
<rect x="416.80" y="342.03" width="6.50" height="51.17" fill="#a3002b" stroke="#860a2c" stroke-width="0.6"/>
<line x1="420.05" y1="341.73" x2="420.05" y2="338.17" stroke="#231f20" stroke-width="1.25"/>
<line x1="418.15" y1="337.87" x2="421.95" y2="337.87" stroke="#231f20" stroke-width="1.4"/>
<rect x="433.50" y="382.56" width="6.20" height="10.64" fill="#2e4c78" stroke="#213555" stroke-width="0.6"/>
<line x1="436.60" y1="382.26" x2="436.60" y2="379.11" stroke="#231f20" stroke-width="1.25"/>
<line x1="434.70" y1="378.81" x2="438.50" y2="378.81" stroke="#231f20" stroke-width="1.4"/>
<text x="418.00" y="320.50" font-size="9.6" stroke="#231f20" stroke-width="0.15" textLength="23.20" lengthAdjust="spacingAndGlyphs">PEMs</text>
<text x="435.50" y="377.50" font-size="9.0" stroke="#231f20" stroke-width="0.15" text-anchor="middle" textLength="9.00" lengthAdjust="spacingAndGlyphs">***</text>
<text x="423.25" y="402.60" font-size="8.4" stroke="#231f20" stroke-width="0.18" text-anchor="end" textLength="12.30" lengthAdjust="spacingAndGlyphs" transform="rotate(-57 423.25 402.60)">WT</text>
<text x="441.00" y="401.70" font-size="8.4" stroke="#231f20" stroke-width="0.18" text-anchor="end" textLength="34.50" lengthAdjust="spacingAndGlyphs" transform="rotate(-57 441.00 401.70)">ER-mTOR</text>
<line x1="469.80" y1="331.50" x2="469.80" y2="393.80" stroke="#231f20" stroke-width="1.5"/>
<line x1="466.80" y1="393.20" x2="469.80" y2="393.20" stroke="#231f20" stroke-width="1.1"/>
<text x="463.90" y="395.75" font-size="7.8" stroke="#231f20" stroke-width="0.12" text-anchor="end">0</text>
<line x1="466.80" y1="372.94" x2="469.80" y2="372.94" stroke="#231f20" stroke-width="1.1"/>
<text x="463.90" y="375.49" font-size="7.8" stroke="#231f20" stroke-width="0.12" text-anchor="end">0.5</text>
<line x1="466.80" y1="352.67" x2="469.80" y2="352.67" stroke="#231f20" stroke-width="1.1"/>
<text x="463.90" y="355.22" font-size="7.8" stroke="#231f20" stroke-width="0.12" text-anchor="end">1</text>
<line x1="466.80" y1="332.40" x2="469.80" y2="332.40" stroke="#231f20" stroke-width="1.1"/>
<text x="463.90" y="334.95" font-size="7.8" stroke="#231f20" stroke-width="0.12" text-anchor="end">1.5</text>
<line x1="469.30" y1="393.20" x2="513.20" y2="393.20" stroke="#231f20" stroke-width="1.5"/>
<line x1="469.80" y1="393.20" x2="469.80" y2="396.20" stroke="#231f20" stroke-width="1.1"/>
<line x1="490.50" y1="393.20" x2="490.50" y2="396.20" stroke="#231f20" stroke-width="1.1"/>
<line x1="511.20" y1="393.20" x2="511.20" y2="396.20" stroke="#231f20" stroke-width="1.1"/>
<rect x="476.80" y="346.69" width="6.50" height="46.51" fill="#a3002b" stroke="#860a2c" stroke-width="0.6"/>
<line x1="480.05" y1="346.39" x2="480.05" y2="338.17" stroke="#231f20" stroke-width="1.25"/>
<line x1="478.15" y1="337.87" x2="481.95" y2="337.87" stroke="#231f20" stroke-width="1.4"/>
<rect x="497.60" y="382.56" width="6.00" height="10.64" fill="#2e4c78" stroke="#213555" stroke-width="0.6"/>
<line x1="500.60" y1="382.26" x2="500.60" y2="380.89" stroke="#231f20" stroke-width="1.25"/>
<line x1="498.70" y1="380.59" x2="502.50" y2="380.59" stroke="#231f20" stroke-width="1.4"/>
<text x="479.30" y="320.70" font-size="9.6" stroke="#231f20" stroke-width="0.15" textLength="24.40" lengthAdjust="spacingAndGlyphs">Colon</text>
<text x="499.20" y="379.30" font-size="9.0" stroke="#231f20" stroke-width="0.15" text-anchor="middle" textLength="9.00" lengthAdjust="spacingAndGlyphs">***</text>
<text x="483.25" y="402.60" font-size="8.4" stroke="#231f20" stroke-width="0.18" text-anchor="end" textLength="12.30" lengthAdjust="spacingAndGlyphs" transform="rotate(-57 483.25 402.60)">WT</text>
<text x="505.00" y="401.70" font-size="8.4" stroke="#231f20" stroke-width="0.18" text-anchor="end" textLength="34.50" lengthAdjust="spacingAndGlyphs" transform="rotate(-57 505.00 401.70)">ER-mTOR</text>
<text x="20.90" y="196.50" font-size="9.3" stroke="#231f20" stroke-width="0.1" text-anchor="middle" textLength="84.00" lengthAdjust="spacingAndGlyphs" transform="rotate(-90 20.90 196.50)">% of F4/80<tspan baseline-shift="super" font-size="6.2">+</tspan> CD11b<tspan baseline-shift="super" font-size="6.2">+</tspan> cells</text>
<text x="93.00" y="197.20" font-size="9.3" stroke="#231f20" stroke-width="0.1" text-anchor="middle" textLength="92.60" lengthAdjust="spacingAndGlyphs" transform="rotate(-90 93.00 197.20)">% of F4/80<tspan baseline-shift="super" font-size="6.2">+</tspan> CD11b<tspan baseline-shift="super" font-size="6.2">high</tspan> cells</text>
<text x="161.40" y="196.10" font-size="9.3" stroke="#231f20" stroke-width="0.1" text-anchor="middle" textLength="89.40" lengthAdjust="spacingAndGlyphs" transform="rotate(-90 161.40 196.10)">% of F4/80<tspan baseline-shift="super" font-size="6.2">+</tspan> CD11b<tspan baseline-shift="super" font-size="6.2">low</tspan> cells</text>
<text x="230.50" y="195.60" font-size="9.3" stroke="#231f20" stroke-width="0.1" text-anchor="middle" textLength="85.00" lengthAdjust="spacingAndGlyphs" transform="rotate(-90 230.50 195.60)">% of F4/80<tspan baseline-shift="super" font-size="6.2">+</tspan> CD11b<tspan baseline-shift="super" font-size="6.2">+</tspan> cells</text>
<text x="22.80" y="358.50" font-size="9.3" stroke="#231f20" stroke-width="0.1" text-anchor="middle" textLength="114.50" lengthAdjust="spacingAndGlyphs" transform="rotate(-90 22.80 358.50)">No. of F4/80<tspan baseline-shift="super" font-size="6.2">+</tspan> CD11b<tspan baseline-shift="super" font-size="6.2">+</tspan> cells (X10<tspan baseline-shift="super" font-size="6.2">5</tspan>)</text>
<text x="98.50" y="354.50" font-size="9.3" stroke="#231f20" stroke-width="0.1" text-anchor="middle" textLength="115.20" lengthAdjust="spacingAndGlyphs" transform="rotate(-90 98.50 354.50)">No. of F4/80<tspan baseline-shift="super" font-size="6.2">+</tspan> CD11b<tspan baseline-shift="super" font-size="6.2">high</tspan> cells (X10<tspan baseline-shift="super" font-size="6.2">6</tspan>)</text>
<text x="171.90" y="355.00" font-size="9.3" stroke="#231f20" stroke-width="0.1" text-anchor="middle" textLength="114.00" lengthAdjust="spacingAndGlyphs" transform="rotate(-90 171.90 355.00)">No. of F4/80<tspan baseline-shift="super" font-size="6.2">+</tspan> CD11b<tspan baseline-shift="super" font-size="6.2">low</tspan> cells (X10<tspan baseline-shift="super" font-size="6.2">6</tspan>)</text>
<text x="242.80" y="355.50" font-size="9.3" stroke="#231f20" stroke-width="0.1" text-anchor="middle" textLength="110.50" lengthAdjust="spacingAndGlyphs" transform="rotate(-90 242.80 355.50)">No. of F4/80<tspan baseline-shift="super" font-size="6.2">+</tspan> CD11b<tspan baseline-shift="super" font-size="6.2">+</tspan> cells (X10<tspan baseline-shift="super" font-size="6.2">5</tspan>)</text>
<text x="318.90" y="361.30" font-size="8.7" stroke="#231f20" stroke-width="0.1" text-anchor="middle" textLength="66.00" lengthAdjust="spacingAndGlyphs" transform="rotate(-90 318.90 361.30)">Normalized ratios of</text>
<text x="331.30" y="361.60" font-size="8.7" stroke="#231f20" stroke-width="0.1" text-anchor="middle" textLength="53.00" lengthAdjust="spacingAndGlyphs" transform="rotate(-90 331.30 361.60)">CD45.2/CD45.1</text>
<text x="327.90" y="143.10" font-size="8.9" stroke="#231f20" stroke-width="0.1" textLength="106.00" lengthAdjust="spacingAndGlyphs">Gated on CD11b<tspan baseline-shift="super" font-size="6.2">+</tspan>F4/80<tspan baseline-shift="super" font-size="6.2">+</tspan></text>
<text x="332.00" y="154.10" font-size="9.6" stroke="#231f20" stroke-width="0.15" textLength="27.50" lengthAdjust="spacingAndGlyphs">Spleen</text>
<text x="383.10" y="155.00" font-size="9.6" stroke="#231f20" stroke-width="0.15" textLength="23.50" lengthAdjust="spacingAndGlyphs">PEMs</text>
<text x="430.80" y="155.50" font-size="9.6" stroke="#231f20" stroke-width="0.15" textLength="25.00" lengthAdjust="spacingAndGlyphs">Colon</text>
<rect x="325.80" y="160.30" width="40.40" height="40.30" fill="none" stroke="#231f20" stroke-width="1.35"/>
<rect x="326.00" y="172.30" width="17.20" height="14.20" fill="none" stroke="#555" stroke-width="0.85"/>
<rect x="336.10" y="189.00" width="19.90" height="11.30" fill="none" stroke="#555" stroke-width="0.85"/>
<text x="330.00" y="169.60" font-size="7.2" stroke="#231f20" stroke-width="0.1" textLength="8.60" lengthAdjust="spacingAndGlyphs">52</text>
<text x="357.00" y="199.50" font-size="7.2" stroke="#231f20" stroke-width="0.1" textLength="8.30" lengthAdjust="spacingAndGlyphs">45</text>
<rect x="373.40" y="160.50" width="42.50" height="39.80" fill="none" stroke="#231f20" stroke-width="1.35"/>
<rect x="373.60" y="172.40" width="16.90" height="14.10" fill="none" stroke="#555" stroke-width="0.85"/>
<rect x="384.80" y="188.50" width="18.80" height="11.60" fill="none" stroke="#555" stroke-width="0.85"/>
<text x="376.80" y="169.50" font-size="7.2" stroke="#231f20" stroke-width="0.1" textLength="15.40" lengthAdjust="spacingAndGlyphs">42.3</text>
<text x="404.30" y="199.60" font-size="7.2" stroke="#231f20" stroke-width="0.1" textLength="8.50" lengthAdjust="spacingAndGlyphs">56</text>
<rect x="421.40" y="160.80" width="43.40" height="40.00" fill="none" stroke="#231f20" stroke-width="1.35"/>
<rect x="421.70" y="172.00" width="14.60" height="21.00" fill="none" stroke="#555" stroke-width="0.85"/>
<rect x="436.50" y="189.50" width="19.80" height="11.10" fill="none" stroke="#555" stroke-width="0.85"/>
<text x="423.10" y="169.90" font-size="7.2" stroke="#231f20" stroke-width="0.1" textLength="8.20" lengthAdjust="spacingAndGlyphs">42</text>
<text x="456.60" y="199.70" font-size="7.2" stroke="#231f20" stroke-width="0.1" textLength="7.80" lengthAdjust="spacingAndGlyphs">54</text>
<rect x="327.40" y="206.20" width="39.60" height="40.20" fill="none" stroke="#231f20" stroke-width="1.35"/>
<rect x="327.60" y="218.50" width="16.00" height="14.50" fill="none" stroke="#555" stroke-width="0.85"/>
<rect x="336.60" y="235.30" width="19.90" height="10.90" fill="none" stroke="#555" stroke-width="0.85"/>
<text x="330.40" y="216.20" font-size="7.2" stroke="#231f20" stroke-width="0.1" textLength="8.80" lengthAdjust="spacingAndGlyphs">69</text>
<text x="357.90" y="244.10" font-size="7.2" stroke="#231f20" stroke-width="0.1" textLength="8.30" lengthAdjust="spacingAndGlyphs">27</text>
<rect x="374.40" y="206.40" width="42.20" height="39.00" fill="none" stroke="#231f20" stroke-width="1.35"/>
<rect x="374.60" y="217.30" width="17.00" height="14.60" fill="none" stroke="#555" stroke-width="0.85"/>
<rect x="385.60" y="233.40" width="19.10" height="11.80" fill="none" stroke="#555" stroke-width="0.85"/>
<text x="377.30" y="217.00" font-size="7.2" stroke="#231f20" stroke-width="0.1" textLength="8.30" lengthAdjust="spacingAndGlyphs">79</text>
<text x="407.50" y="243.80" font-size="7.2" stroke="#231f20" stroke-width="0.1" textLength="7.30" lengthAdjust="spacingAndGlyphs">18</text>
<rect x="422.50" y="206.00" width="43.10" height="38.80" fill="none" stroke="#231f20" stroke-width="1.35"/>
<rect x="423.20" y="217.30" width="13.50" height="20.10" fill="none" stroke="#555" stroke-width="0.85"/>
<rect x="436.70" y="233.90" width="19.60" height="10.70" fill="none" stroke="#555" stroke-width="0.85"/>
<text x="423.70" y="216.00" font-size="7.2" stroke="#231f20" stroke-width="0.1" textLength="7.30" lengthAdjust="spacingAndGlyphs">77</text>
<text x="456.60" y="243.90" font-size="7.2" stroke="#231f20" stroke-width="0.1" textLength="7.70" lengthAdjust="spacingAndGlyphs">19</text>
<text x="469.10" y="182.30" font-size="8.0" stroke="#231f20" stroke-width="0.1" textLength="10.30" lengthAdjust="spacingAndGlyphs">WT</text>
<text x="469.30" y="191.30" font-size="8.0" stroke="#231f20" stroke-width="0.1" textLength="28.60" lengthAdjust="spacingAndGlyphs">+CD45.1</text>
<text x="469.10" y="227.00" font-size="8.0" stroke="#231f20" stroke-width="0.1" textLength="44.60" lengthAdjust="spacingAndGlyphs">ER-mTOR KO</text>
<text x="469.30" y="236.20" font-size="8.0" stroke="#231f20" stroke-width="0.1" textLength="28.60" lengthAdjust="spacingAndGlyphs">+CD45.1</text>
<line x1="319.80" y1="177.20" x2="319.80" y2="217.50" stroke="#231f20" stroke-width="1.3"/>
<path d="M316.80,178.20 L319.80,171.00 L322.80,178.20 L319.80,176.80 Z" fill="#231f20" stroke="none" stroke-width="1.0"/>
<text x="323.40" y="233.60" font-size="9.8" stroke="#231f20" stroke-width="0.25" text-anchor="middle" textLength="23.30" lengthAdjust="spacingAndGlyphs" transform="rotate(-90 323.40 233.60)">CD45.1</text>
<text x="327.70" y="257.60" font-size="9.8" stroke="#231f20" stroke-width="0.25" textLength="24.50" lengthAdjust="spacingAndGlyphs">CD45.2</text>
<line x1="354.90" y1="254.10" x2="450.80" y2="254.10" stroke="#231f20" stroke-width="1.3"/>
<path d="M449.80,251.10 L457.00,254.10 L449.80,257.10 L451.20,254.10 Z" fill="#231f20" stroke="none" stroke-width="1.0"/>
<rect x="0" y="0" width="520" height="1.1" fill="#000"/>
<rect x="0" y="0" width="1.1" height="451" fill="#000"/>
<rect x="518.6" y="0" width="1.4" height="451" fill="#000"/>
<rect x="0" y="449.6" width="520" height="1.4" fill="#000"/></svg>
</body></html>
